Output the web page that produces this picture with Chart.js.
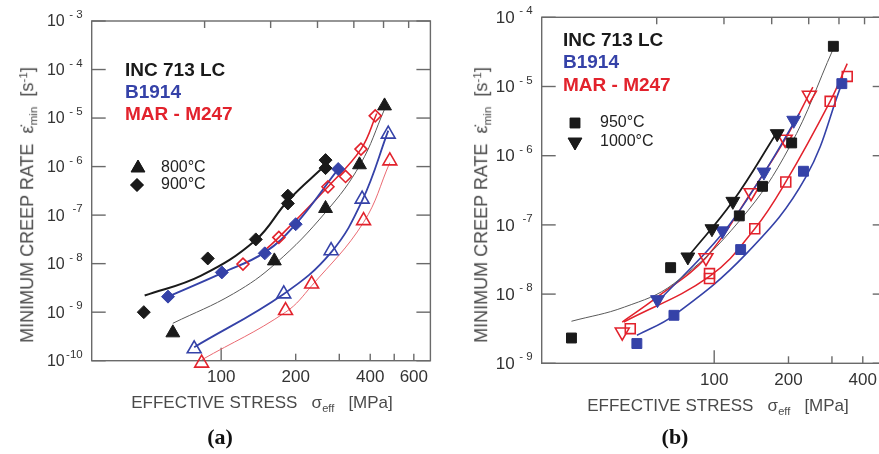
<!DOCTYPE html>
<html lang="en">
<head>
<meta charset="UTF-8">
<title>Minimum creep rate vs effective stress</title>
<script src="https://cdn.jsdelivr.net/npm/chart.js@4"></script>
<style>
  html, body { margin: 0; padding: 0; background: #fff; overflow: hidden; }
  body { width: 879px; height: 454px; position: relative; font-family: "Liberation Sans", Arial, sans-serif; }
  canvas { position: absolute; top: 0; }
  #chartA { left: 0; }
  #chartB { left: 440px; }
  .xtitle, .ytitle { position: absolute; white-space: nowrap; color: #4a4a4a; line-height: 1; }
  .xtitle { font-size: 17px; transform: translate(-50%, -50%); }
  .ytitle { font-size: 18px; transform: translate(-50%, -50%) rotate(-90deg); }
  .xtitle sub, .ytitle sub { font-size: 0.65em; vertical-align: -0.3em; }
  .ytitle sup { font-size: 0.65em; vertical-align: 0.55em; }
  .caption { position: absolute; font-family: "Liberation Serif", "Times New Roman", serif; font-weight: bold; font-size: 22px; color: #111; transform: translate(-50%, -50%); }
</style>
</head>
<body>
<canvas id="chartA" width="440" height="454"></canvas>
<canvas id="chartB" width="460" height="454"></canvas>

<div class="ytitle" style="left:28px; top:205px;">MINIMUM CREEP RATE&nbsp; &#949;&#775;<sub>min</sub>&nbsp; [s<sup>-1</sup>]</div>
<div class="xtitle" style="left:262px; top:404px;">EFFECTIVE STRESS&nbsp;&nbsp; &sigma;<sub>eff</sub>&nbsp;&nbsp; [MPa]</div>
<div class="caption" style="left:220px; top:437px;">(a)</div>

<div class="ytitle" style="left:482px; top:205px;">MINIMUM CREEP RATE&nbsp; &#949;&#775;<sub>min</sub>&nbsp; [s<sup>-1</sup>]</div>
<div class="xtitle" style="left:718px; top:407px;">EFFECTIVE STRESS&nbsp;&nbsp; &sigma;<sub>eff</sub>&nbsp;&nbsp; [MPa]</div>
<div class="caption" style="left:675px; top:437px;">(b)</div>

<script>
// ---- panel (a): [stress MPa, creep rate 1/s] ----
const incA800 = [[63.8, 3.75e-10], [164, 1.14e-8], [264, 1.37e-7], [362, 1.09e-6], [457, 1.78e-5]];
const incA900 = [[48.7, 1.0e-9], [88.3, 1.28e-8], [138, 3.16e-8], [186, 1.74e-7], [186, 2.51e-7], [264, 9.3e-7], [264, 1.36e-6]];
const b1914A800 = [[77.8, 1.76e-10], [179, 2.38e-9], [278, 1.85e-8], [371, 2.14e-7], [473, 4.66e-6]];
const b1914A900 = [[61, 2.09e-9], [100.6, 6.6e-9], [150, 1.63e-8], [200, 6.5e-8], [297, 8.9e-7]];
const marA800 = [[83.4, 8.9e-11], [182, 1.08e-9], [232, 3.8e-9], [376, 7.7e-8], [480, 1.31e-6]];
const marA900 = [[122.5, 9.8e-9], [171, 3.47e-8], [270, 3.84e-7], [318, 6.25e-7], [367, 2.29e-6], [419, 1.11e-5]];

// fitted curves in (a)
const fitIncA900 = [[49.1, 2.2e-9], [82.6, 5.6e-9], [138, 3.07e-8], [186, 1.98e-7], [262, 1.04e-6]];
const fitIncA800 = [[63.8, 5.9e-10], [112, 2.4e-9], [166, 1.01e-8], [264, 1.14e-7], [365, 1.12e-6], [457, 1.52e-5]];
const fitB1914A900 = [[61, 2.09e-9], [100.6, 6.4e-9], [150, 1.71e-8], [200, 6.5e-8], [295, 8.5e-7]];
const fitMarA900 = [[152, 2.0e-8], [171, 3.47e-8], [270, 3.84e-7], [367, 2.29e-6], [425, 1.24e-5]];
const fitB1914A800 = [[77.8, 1.9e-10], [179, 2.38e-9], [278, 1.71e-8], [371, 1.98e-7], [473, 5.5e-6]];
const fitMarA800 = [[83.4, 1.04e-10], [182, 1.0e-9], [232, 3.5e-9], [376, 7.1e-8], [480, 1.21e-6]];

// ---- panel (b) ----
const incB950 = [[26.4, 2.32e-9], [66.6, 2.41e-8], [126.4, 1.35e-7], [157, 3.61e-7], [206, 1.53e-6], [304, 3.81e-5]];
const incB1000 = [[78.2, 3.44e-8], [97.9, 8.8e-8], [119, 2.19e-7], [180, 2.08e-6]];
const b1914B950 = [[48.6, 1.93e-9], [68.7, 4.94e-9], [128, 4.4e-8], [230, 5.96e-7], [329, 1.10e-5]];
const b1914B1000 = [[58.9, 8.3e-9], [108, 8.2e-8], [159, 5.8e-7], [210, 3.25e-6]];
const marB950 = [[45.7, 3.17e-9], [95.7, 1.98e-8], [95.7, 1.68e-8], [146, 8.8e-8], [195, 4.17e-7], [295, 6.11e-6], [346, 1.40e-5]];
const marB1000 = [[42.4, 2.83e-9], [92.6, 3.36e-8], [141, 2.92e-7], [194, 1.73e-6], [243, 7.46e-6]];

const fitIncB950 = [[26.4, 4.05e-9], [43.3, 6.5e-9], [68.7, 1.42e-8], [127, 1.16e-7], [202, 1.34e-6], [304, 3.53e-5]];
const fitIncB1000 = [[78.2, 3.44e-8], [119, 2.19e-7], [180, 2.2e-6]];
const fitB1914B1000 = [[58.9, 7.7e-9], [108, 7.5e-8], [159, 5.6e-7], [221, 4.05e-6]];
const fitB1914B950 = [[48.6, 2.54e-9], [68.7, 4.94e-9], [135, 3.85e-8], [235, 4.9e-7], [329, 1.1e-5]];
const fitMarB1000 = [[42.4, 3.95e-9], [58.9, 9.1e-9], [92.6, 3.36e-8], [141, 2.92e-7], [194, 1.73e-6], [251, 9.8e-6]];
const fitMarB950 = [[43, 3.95e-9], [95.7, 1.8e-8], [146, 8.8e-8], [195, 4.17e-7], [295, 6.1e-6], [346, 2.14e-5]];

// axis ticks
const yExpA = [-3, -4, -5, -6, -7, -8, -9, -10];
const yExpB = [-4, -5, -6, -7, -8, -9];
const xTicksA = [100, 200, 300, 400, 500, 600];
const xLabelsA = [100, 200, 400, 600];
const xTicksB = [100, 200, 300, 400];
const xLabelsB = [100, 200, 400];
const topTicks = [2, 3, 4, 5, 6, 7];

const BLACK = '#1a1a1a', BLUE = '#3542a8', RED = '#e2222c', GREY = '#5a5a5a', PINK = '#ea6a72';

function pts(arr) { return arr.map(p => ({ x: p[0], y: p[1] })); }

function marks(data, style, color, filled, r, rot) {
    return {
        data: pts(data), showLine: false, pointStyle: style, pointRotation: rot || 0,
        pointRadius: r, pointHoverRadius: r,
        pointBackgroundColor: filled ? color : 'rgba(0,0,0,0)',
        pointBorderColor: color, pointBorderWidth: filled ? 1 : 1.6,
        clip: false, order: 0
    };
}

function curve(data, color, w) {
    return {
        data: pts(data), showLine: true, pointRadius: 0, borderColor: color, borderWidth: w,
        tension: 0.4, fill: false, order: 1
    };
}

function line(ctx, x1, y1, x2, y2) {
    ctx.beginPath(); ctx.moveTo(x1, y1); ctx.lineTo(x2, y2); ctx.stroke();
}

// frame, inward ticks, tick labels and the in-plot legend
const decor = {
    id: 'decor',
    beforeDatasetsDraw(chart, args, o) {
        const { ctx, chartArea: a, scales } = chart;
        ctx.save();
        ctx.strokeStyle = '#6a6a6a';
        ctx.lineWidth = 1.4;
        ctx.strokeRect(a.left, a.top, a.right - a.left, a.bottom - a.top);
        o.yExp.forEach(e => {
            const y = scales.y.getPixelForValue(Math.pow(10, e));
            line(ctx, a.left, y, a.left + 14, y);
            line(ctx, a.right, y, a.right - 14, y);
        });
        o.xTicks.forEach(v => {
            const x = scales.x.getPixelForValue(v);
            line(ctx, x, a.bottom, x, a.bottom - (v === 100 ? 13 : 7));
        });
        o.topTicks.forEach(v => {
            const x = scales.xTop.getPixelForValue(v);
            line(ctx, x, a.top, x, a.top + 7);
        });
        ctx.restore();
    },
    afterDraw(chart, args, o) {
        const { ctx, chartArea: a, scales } = chart;
        ctx.save();
        ctx.fillStyle = '#333';
        ctx.textBaseline = 'middle';
        // y labels: 10 with raised exponent
        const xr = a.left - 9;
        o.yExp.forEach(e => {
            const y = scales.y.getPixelForValue(Math.pow(10, e));
            const ex = (e === -7 || e <= -10) ? String(e) : '- ' + (-e);
            ctx.font = '11.5px "Liberation Sans", Arial, sans-serif';
            ctx.textAlign = 'right';
            const ew = ctx.measureText(ex).width;
            ctx.fillText(ex, xr, y - 6);
            ctx.font = o.yFont + 'px "Liberation Sans", Arial, sans-serif';
            ctx.fillText('10', Math.min(xr - 18, xr - ew - 1), y + 1);
        });
        // x labels
        ctx.font = '17px "Liberation Sans", Arial, sans-serif';
        ctx.textAlign = 'center';
        o.xLabels.forEach(v => {
            ctx.fillText(String(v), scales.x.getPixelForValue(v), a.bottom + 17);
        });
        // alloy names
        ctx.textAlign = 'left';
        ctx.font = 'bold 19px "Liberation Sans", Arial, sans-serif';
        o.names.forEach(n => {
            ctx.fillStyle = n.color;
            ctx.fillText(n.text, n.x, n.y);
        });
        // temperature keys
        ctx.font = '16px "Liberation Sans", Arial, sans-serif';
        o.keys.forEach(k => {
            ctx.fillStyle = BLACK;
            ctx.strokeStyle = BLACK;
            ctx.lineWidth = 1;
            Chart.helpers.drawPoint(ctx, { pointStyle: k.style, rotation: k.rot || 0, radius: k.r, borderWidth: 1 }, k.x, k.y);
            ctx.fill();
            ctx.fillStyle = '#222';
            ctx.fillText(k.text, k.tx, k.y);
        });
        ctx.restore();
    }
};

new Chart(document.getElementById('chartA'), {
    type: 'scatter',
    data: {
        datasets: [
            marks(incA800, 'triangle', BLACK, true, 8),
            marks(incA900, 'rectRot', BLACK, true, 6.5),
            marks(b1914A800, 'triangle', BLUE, false, 8),
            marks(b1914A900, 'rectRot', BLUE, true, 6.5),
            marks(marA800, 'triangle', RED, false, 8),
            marks(marA900, 'rectRot', RED, false, 6),
            curve(fitIncA900, BLACK, 2),
            curve(fitIncA800, GREY, 1),
            curve(fitB1914A900, BLUE, 2),
            curve(fitMarA900, RED, 1.6),
            curve(fitB1914A800, BLUE, 1.8),
            curve(fitMarA800, PINK, 1)
        ]
    },
    options: {
        responsive: false,
        animation: false,
        layout: { padding: { left: 91.7, top: 21, right: 6.7, bottom: 93.3 } },
        scales: {
            x: { type: 'logarithmic', min: 30, max: 700, display: false },
            y: { type: 'logarithmic', min: 1e-10, max: 1e-3, display: false },
            xTop: { type: 'logarithmic', axis: 'x', position: 'top', min: 1, max: 8, display: false }
        },
        plugins: {
            legend: { display: false },
            tooltip: { enabled: false },
            decor: {
                yExp: yExpA, xTicks: xTicksA, xLabels: xLabelsA, topTicks: topTicks, yFont: 16,
                names: [
                    { text: 'INC 713 LC', color: BLACK, x: 125, y: 71 },
                    { text: 'B1914', color: BLUE, x: 125, y: 93 },
                    { text: 'MAR - M247', color: RED, x: 125, y: 115 }
                ],
                keys: [
                    { style: 'triangle', r: 8, x: 138, y: 168, tx: 161, text: '800°C' },
                    { style: 'rectRot', r: 6.5, x: 137, y: 185, tx: 161, text: '900°C' }
                ]
            }
        }
    },
    plugins: [decor]
});

new Chart(document.getElementById('chartB'), {
    type: 'scatter',
    data: {
        datasets: [
            marks(incB950, 'rect', BLACK, true, 7),
            marks(incB1000, 'triangle', BLACK, true, 8, 180),
            marks(b1914B950, 'rect', BLUE, true, 7),
            marks(b1914B1000, 'triangle', BLUE, true, 8, 180),
            marks(marB950, 'rect', RED, false, 7),
            marks(marB1000, 'triangle', RED, false, 8, 180),
            curve(fitIncB950, GREY, 1),
            curve(fitIncB1000, BLACK, 1.8),
            curve(fitB1914B1000, BLUE, 1.6),
            curve(fitB1914B950, BLUE, 1.6),
            curve(fitMarB1000, RED, 1.5),
            curve(fitMarB950, RED, 1.5)
        ]
    },
    options: {
        responsive: false,
        animation: false,
        layout: { padding: { left: 101.7, top: 17.3, right: 13.3, bottom: 90.7 } },
        scales: {
            x: { type: 'logarithmic', min: 20, max: 500, display: false },
            y: { type: 'logarithmic', min: 1e-9, max: 1e-4, display: false },
            xTop: { type: 'logarithmic', axis: 'x', position: 'top', min: 1, max: 8, display: false }
        },
        plugins: {
            legend: { display: false },
            tooltip: { enabled: false },
            decor: {
                yExp: yExpB, xTicks: xTicksB, xLabels: xLabelsB, topTicks: topTicks, yFont: 17,
                names: [
                    { text: 'INC 713 LC', color: BLACK, x: 123, y: 41 },
                    { text: 'B1914', color: BLUE, x: 123, y: 63 },
                    { text: 'MAR - M247', color: RED, x: 123, y: 86 }
                ],
                keys: [
                    { style: 'rect', r: 7, x: 135, y: 123, tx: 160, text: '950°C' },
                    { style: 'triangle', r: 8, rot: 180, x: 135, y: 142, tx: 160, text: '1000°C' }
                ]
            }
        }
    },
    plugins: [decor]
});
</script>
</body>
</html>
